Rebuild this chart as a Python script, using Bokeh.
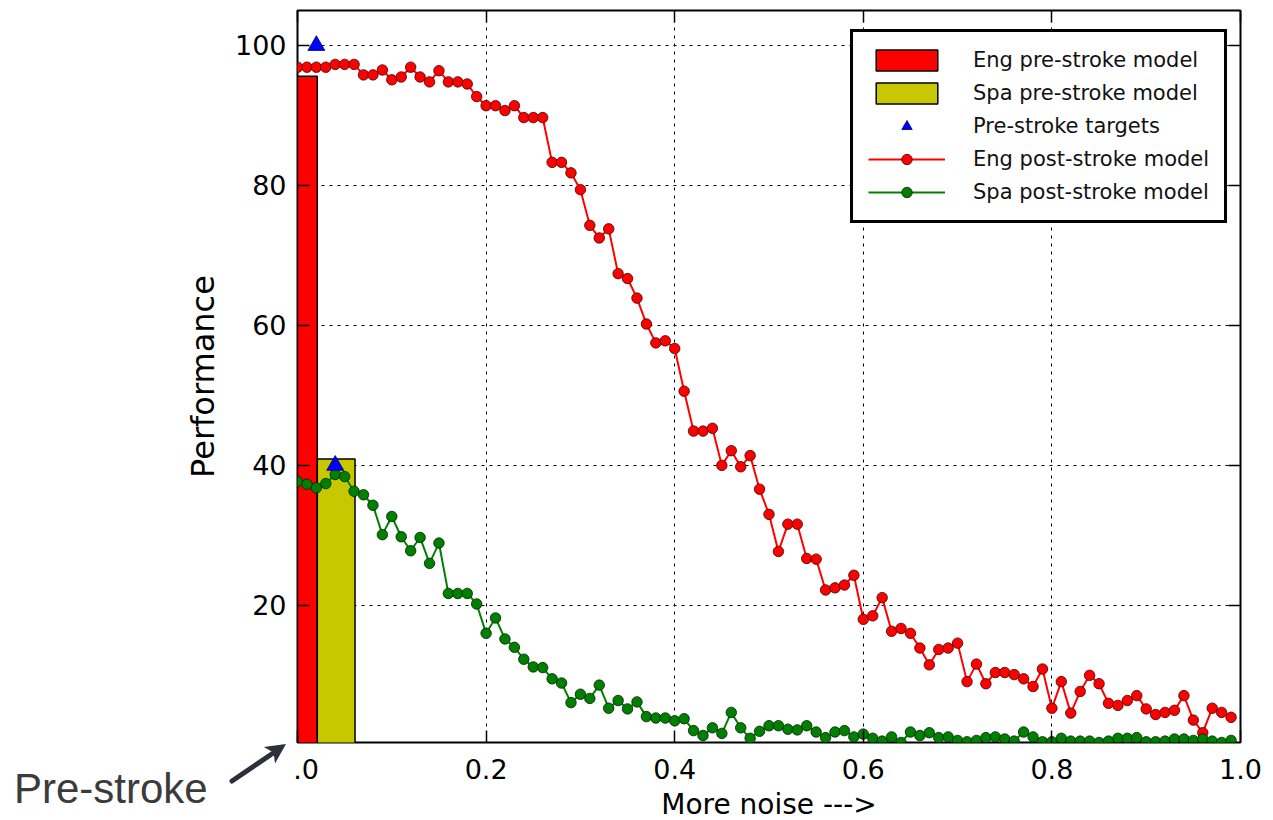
import numpy as np
from bokeh.plotting import figure
from bokeh.models import (Range1d, LinearAxis, Legend, LegendItem, FixedTicker,
                          PrintfTickFormatter, GridBox, Div)
from bokeh.embed import file_html
from bokeh.resources import INLINE

# ---------------- data ----------------
noise = np.round(np.arange(100) * 0.01, 2)

eng_post = [96.9, 96.9, 96.9, 96.9, 97.3, 97.3, 97.3, 95.8, 95.8, 96.5,
            95.1, 95.5, 96.9, 95.5, 94.8, 96.4, 94.8, 94.8, 94.5, 92.7,
            91.4, 91.4, 90.7, 91.4, 89.7, 89.7, 89.7, 83.3, 83.3, 81.8,
            79.4, 74.3, 72.5, 73.8, 67.4, 66.7, 63.9, 60.2, 57.5, 57.8,
            56.7, 50.6, 44.9, 44.9, 45.3, 40.0, 42.1, 39.8, 41.4, 36.6,
            33.0, 27.7, 31.6, 31.6, 26.7, 26.6, 22.2, 22.5, 22.9, 24.3,
            18.0, 18.5, 21.1, 16.3, 16.7, 16.0, 13.9, 11.5, 13.7, 13.9,
            14.6, 9.1, 11.6, 8.8, 10.4, 10.4, 10.1, 9.5, 8.4, 10.9,
            5.3, 9.1, 4.6, 7.7, 10.0, 8.8, 6.0, 5.7, 6.4, 7.1,
            5.2, 4.4, 4.7, 5.0, 7.1, 3.6, 1.8, 5.3, 4.7, 4.0]

spa_post = [37.7, 37.3, 36.8, 37.4, 38.7, 38.4, 36.3, 35.8, 34.3, 30.1,
            32.7, 29.8, 27.8, 29.7, 26.0, 28.9, 21.7, 21.7, 21.7, 20.2,
            16.0, 18.2, 15.2, 14.0, 12.3, 11.2, 11.1, 9.5, 8.9, 6.1,
            7.3, 6.7, 8.6, 5.3, 6.4, 5.2, 6.2, 4.1, 3.9, 3.9,
            3.5, 3.8, 2.1, 1.4, 2.5, 1.7, 4.7, 2.5, 1.0, 2.0,
            2.8, 2.8, 2.3, 2.2, 2.8, 1.9, 1.1, 1.9, 2.1, 1.2,
            1.6, 1.0, 0.6, 1.2, 0.4, 1.9, 1.4, 1.8, 1.1, 1.2,
            0.7, 0.5, 0.7, 1.1, 1.2, 0.9, 0.6, 1.9, 1.2, 0.5,
            0.5, 1.0, 0.6, 0.6, 0.6, 0.4, 0.6, 1.0, 1.0, 1.1,
            0.5, 0.5, 0.6, 0.9, 0.9, 0.7, 0.9, 0.6, 0.4, 0.7]

bar_labels = ["Eng pre-stroke model", "Spa pre-stroke model"]
bar_left = [0.0, 0.021]
bar_right = [0.021, 0.061]
bar_top = [95.6, 40.9]

target_label = "Pre-stroke targets"
target_x = [0.02, 0.04]
target_y = [100.0, 40.0]

line_labels = ["Eng post-stroke model", "Spa post-stroke model"]

x_ticks = [0.0, 0.2, 0.4, 0.6, 0.8, 1.0]
y_ticks = [20, 40, 60, 80, 100]

side_note = "Pre-stroke"

W, H = 1270, 819

# ---------------- main figure ----------------
p = figure(frame_width=943, frame_height=732,
           x_range=Range1d(0, 1), y_range=Range1d(0.4, 105),
           output_backend="svg", toolbar_location=None,
           min_border_left=297, min_border_right=30,
           min_border_top=10, min_border_bottom=77,
           background_fill_color="white", border_fill_color="white",
           outline_line_color="black", outline_line_width=2)

for g in (p.xgrid, p.ygrid):
    g.grid_line_color = "black"
    g.grid_line_dash = "3 5"
    g.grid_line_width = 1
p.xgrid.ticker = FixedTicker(ticks=x_ticks)
p.ygrid.ticker = FixedTicker(ticks=y_ticks)


def style_axis(ax, show_labels=True):
    ax.axis_line_color = None
    ax.major_tick_in = 12
    ax.major_tick_out = 0
    ax.major_tick_line_color = "black"
    ax.major_tick_line_width = 1.5
    ax.minor_tick_line_color = None
    ax.major_label_text_font = "DejaVu Sans"
    if show_labels:
        ax.major_label_text_font_size = "27px"
        ax.major_label_text_color = "black"
        ax.major_label_standoff = 11
    else:
        ax.major_label_text_font_size = "1px"
        ax.major_label_text_color = None
        ax.major_label_standoff = 0


p.xaxis.ticker = FixedTicker(ticks=x_ticks)
p.yaxis.ticker = FixedTicker(ticks=y_ticks)
style_axis(p.xaxis[0])
style_axis(p.yaxis[0])
p.xaxis.formatter = PrintfTickFormatter(format="%.1f")
p.xaxis.major_label_overrides = {0: "\u2007.0"}

p.xaxis.axis_label = "More noise --->"
p.xaxis.axis_label_standoff = 0
p.yaxis.axis_label = "Performance"
p.yaxis.axis_label_standoff = 10
for ax in (p.xaxis[0], p.yaxis[0]):
    ax.axis_label_text_font = "DejaVu Sans"
    ax.axis_label_text_font_style = "normal"
    ax.axis_label_text_color = "black"
p.xaxis.axis_label_text_font_size = "28px"
p.yaxis.axis_label_text_font_size = "32px"

top_ax = LinearAxis(ticker=FixedTicker(ticks=x_ticks))
right_ax = LinearAxis(ticker=FixedTicker(ticks=y_ticks))
style_axis(top_ax, False)
style_axis(right_ax, False)
p.add_layout(top_ax, "above")
p.add_layout(right_ax, "right")

# ---------------- glyphs ----------------
bar_eng = p.quad(left=bar_left[0:1], right=bar_right[0:1], bottom=[0], top=bar_top[0:1],
                 fill_color="#ff0000", line_color="black", line_width=1.5)
bar_spa = p.quad(left=bar_left[1:2], right=bar_right[1:2], bottom=[0], top=bar_top[1:2],
                 fill_color="#c8c800", line_color="black", line_width=1.5)

eng_line = p.line(noise, eng_post, line_color="#ff0000", line_width=2)
eng_pts = p.scatter(noise, eng_post, size=10.5, fill_color="#ff0000",
                    line_color="#400000", line_width=0.8)
spa_line = p.line(noise, spa_post, line_color="#008000", line_width=2)
spa_pts = p.scatter(noise, spa_post, size=10.5, fill_color="#008000",
                    line_color="#002000", line_width=0.8)

targets = p.scatter(target_x, target_y, marker="triangle", size=17,
                    fill_color="#0000ff", line_color="#000060", line_width=0.8)

legend = Legend(items=[
    LegendItem(label=bar_labels[0], renderers=[bar_eng]),
    LegendItem(label=bar_labels[1], renderers=[bar_spa]),
    LegendItem(label=target_label, renderers=[targets]),
    LegendItem(label=line_labels[0], renderers=[eng_line, eng_pts]),
    LegendItem(label=line_labels[1], renderers=[spa_line, spa_pts]),
], location=(553, 519))
legend.label_text_font = "DejaVu Sans"
legend.label_text_font_size = "21px"
legend.label_text_color = "#111111"
legend.glyph_width = 77
legend.glyph_height = 26
legend.spacing = 7
legend.padding = 15
legend.label_standoff = 28
legend.border_line_color = "black"
legend.border_line_alpha = 1
legend.border_line_width = 3
legend.background_fill_color = "white"
legend.background_fill_alpha = 1
legend.margin = 0
p.add_layout(legend)

# ---------------- slide annotation outside the chart (text + arrow) ----------------
note_svg = (
    f'<svg xmlns="http://www.w3.org/2000/svg" width="{W}" height="{H}" '
    f'style="display:block">'
    f'<text x="14" y="803" font-family="Open Sans" font-size="42" '
    f'fill="#3b3b3b">{side_note}</text>'
    f'<line x1="232" y1="781" x2="274" y2="752.5" stroke="#2b303b" '
    f'stroke-width="5" stroke-linecap="round"/>'
    f'<polygon points="286,744 263.8,747 273.6,752.4 275,763.5" fill="#2b303b"/>'
    f'</svg>'
)
note = Div(text=note_svg, width=W, height=H, margin=(0, 0, 0, 0))

layout = GridBox(children=[(p, 0, 0), (note, 0, 0)])

open("out.html", "w").write(file_html(layout, INLINE))
